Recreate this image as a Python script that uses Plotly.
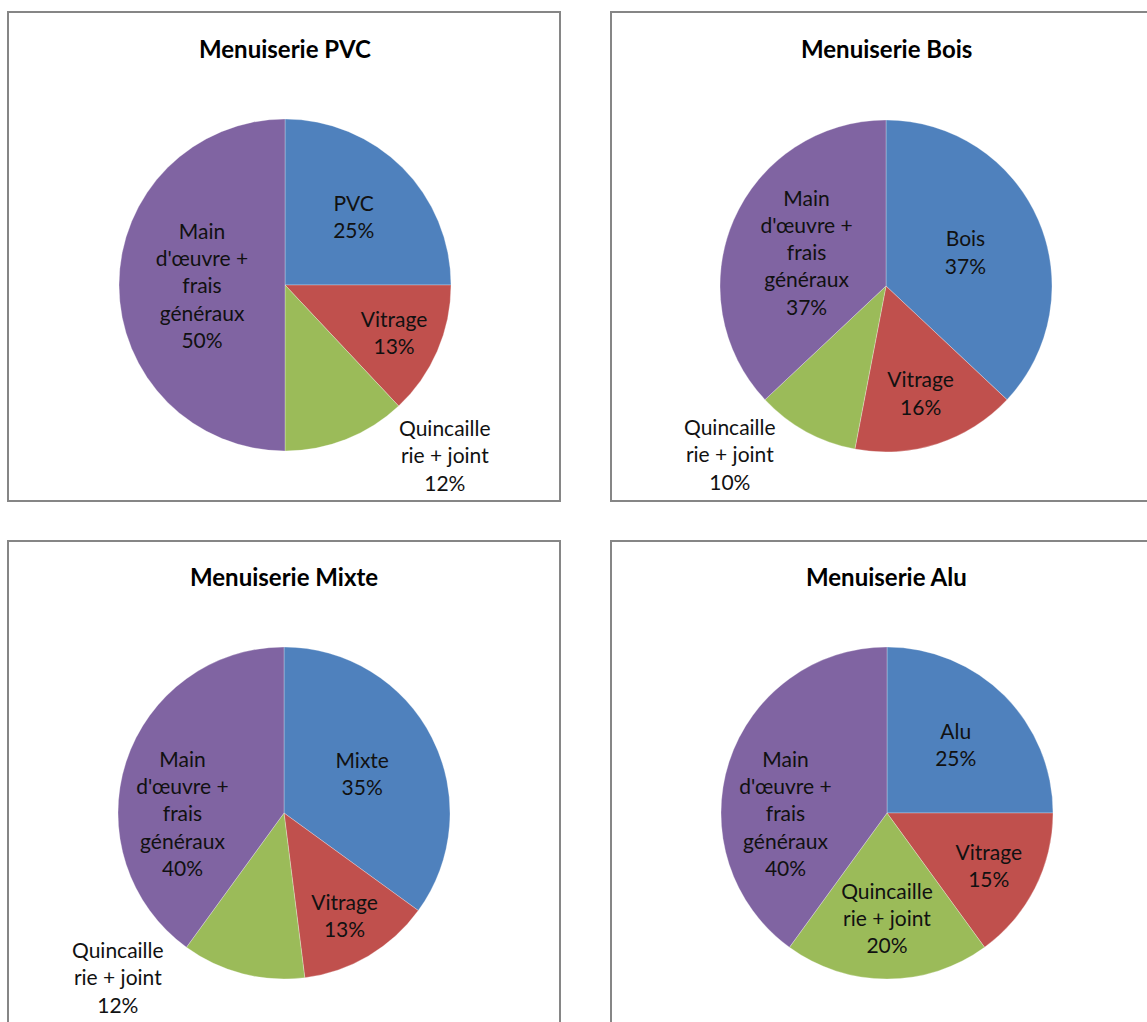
import math
import plotly.graph_objects as go

W, H = 1147, 1022

# Cost breakdown of joinery, one pie per material
titles = ["Menuiserie PVC", "Menuiserie Bois", "Menuiserie Mixte", "Menuiserie Alu"]
materials = ["PVC", "Bois", "Mixte", "Alu"]
other_parts = ["Vitrage", "Quincaille<br>rie + joint", "Main<br>d'œuvre +<br>frais<br>généraux"]

pvc_values = [25, 13, 12, 50]
bois_values = [37, 16, 10, 37]
mixte_values = [35, 13, 12, 40]
alu_values = [25, 15, 20, 40]

colors = ["#4F81BD", "#C0504D", "#9BBB59", "#8064A2"]

# Narrow hardware slices get their label outside the pie, beside the slice
outside_slice = [2, 2, 2, None]
# pixel shift of each outside label from the rim point of its slice
outside_label_shift = [(99, 16), (-76, 23), (-125, 3), None]

FONT = "Lato, 'Open Sans', sans-serif"
LABEL_FONT = dict(family=FONT, size=21, color="#111111")


def px_x(v):
    return v / W


def px_y(v):
    return 1 - v / H


# pie centres and radius in pixels
centres = [(285, 285), (886, 286), (284, 813), (887, 813)]
radius = 166

fig = go.Figure()
all_values = [pvc_values, bois_values, mixte_values, alu_values]
for i, vals in enumerate(all_values):
    cx, cy = centres[i]
    labels = [materials[i]] + other_parts
    positions = ["inside"] * len(vals)
    if outside_slice[i] is not None:
        positions[outside_slice[i]] = "none"
    fig.add_trace(go.Pie(
        labels=labels,
        values=vals,
        sort=False,
        direction="clockwise",
        rotation=0,
        marker=dict(colors=colors, line=dict(width=0.8, color="rgba(255,255,255,0.35)")),
        texttemplate="%{label}<br>%{value}%",
        textposition=positions,
        insidetextorientation="horizontal",
        textfont=LABEL_FONT,
        automargin=False,
        showlegend=False,
        hoverinfo="label+percent",
        domain=dict(
            x=[px_x(cx - radius), px_x(cx + radius)],
            y=[px_y(cy + radius), px_y(cy - radius)],
        ),
    ))

    # outside label: anchored on the rim at the slice's mid angle
    k = outside_slice[i]
    if k is not None:
        total = sum(vals)
        mid = (sum(vals[:k]) + vals[k] / 2) / total * 2 * math.pi
        rim_x = cx + radius * math.sin(mid)
        rim_y = cy - radius * math.cos(mid)
        dx, dy = outside_label_shift[i]
        fig.add_annotation(
            text="%s<br>%d%%" % (labels[k], round(100 * vals[k] / total)),
            x=px_x(rim_x), y=px_y(rim_y), xref="paper", yref="paper",
            xshift=dx, yshift=-dy, showarrow=False,
            xanchor="center", yanchor="middle", align="center",
            font=LABEL_FONT,
        )

# panel frames
frames = [(8, 12, 560, 501), (611, 12, 1160, 501), (8, 541, 560, 1040), (611, 541, 1160, 1040)]
for x0, y0, x1, y1 in frames:
    fig.add_shape(type="rect", xref="paper", yref="paper",
                  x0=px_x(x0), x1=px_x(x1), y0=px_y(y1), y1=px_y(y0),
                  line=dict(color="#868686", width=2), layer="below")

title_pos = [(285, 48), (886, 48), (284, 576), (886, 576)]
for t, (tx, ty) in zip(titles, title_pos):
    fig.add_annotation(text="<b>%s</b>" % t, x=px_x(tx), y=px_y(ty), xref="paper", yref="paper",
                       showarrow=False, xanchor="center", yanchor="middle",
                       font=dict(family=FONT, size=24, color="#000000"))

fig.update_layout(
    width=W, height=H,
    margin=dict(l=0, r=0, t=0, b=0, autoexpand=False),
    paper_bgcolor="white",
    plot_bgcolor="white",
    uniformtext=dict(minsize=21, mode="show"),
)

fig.write_html("out.html")
